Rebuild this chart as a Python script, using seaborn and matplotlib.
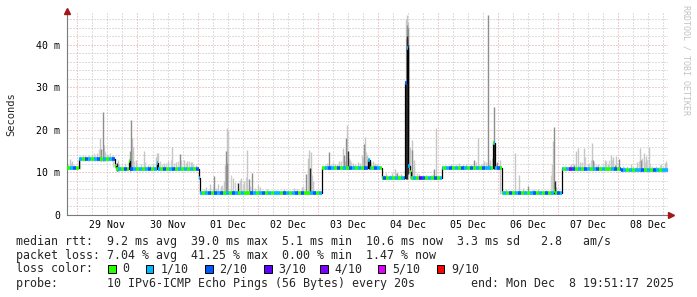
import numpy as np
import pandas as pd
import matplotlib
matplotlib.use("Agg")
import matplotlib.pyplot as plt
import seaborn as sns
from matplotlib.patches import Rectangle

# ---------------- data ----------------
x_start, x_end = -0.173, 9.827          # days relative to 29 Nov 00:00
y_top = 47.5                            # ms
day_labels = ["29 Nov", "30 Nov", "01 Dec", "02 Dec", "03 Dec",
              "04 Dec", "05 Dec", "06 Dec", "07 Dec", "08 Dec"]
y_ticks_ms = [0, 10, 20, 30, 40]
y_tick_labels = ["0", "10 m", "20 m", "30 m", "40 m"]

# median rtt (step, start day of each level, ms)
med_day = [-0.173, 0.033, 0.625, 0.65, 0.858, 0.883, 1.325, 1.342, 2.017, 2.038,
           4.067, 4.842, 4.867, 5.067, 5.458, 5.478, 5.508, 5.533, 5.558, 6.067,
           6.908, 6.95, 7.067, 7.925, 7.942, 8.067, 9.05]
med_ms = [11.0, 13.1, 11.6, 10.7, 12.6, 10.8, 12.3, 10.9, 8.8, 5.25,
          11.0, 12.9, 11.0, 8.8, 31.0, 39.2, 11.5, 10.0, 8.8, 11.1,
          16.9, 11.1, 5.25, 5.6, 5.25, 10.8, 10.6]

# packet loss class per time bin along the median line (0, 1..9 tenths)
loss_bins = ("0120102101" "2010120102" "0210101201" "1020120101" "0102101202"
             "1201021010" "0210120101" "1021012020" "0120101210" "2010210102"
             "1021020101" "0121010320" "1020101201" "0210201021" "1012010201"
             "2010120102" "0102101420" "1021012010" "0120210101" "1201021011")

# smoke (ping spread) spikes: day, top ms, shade (L light, M mid, D dark)
spike_day = [-0.128, -0.083, 0.133, 0.25, 0.333, 0.375, 0.4, 0.422, 0.438, 0.467,
             0.517, 0.583, 0.658, 0.683, 0.867, 0.888, 0.912, 0.933, 0.967,
             1.105, 1.167, 1.25, 1.3, 1.328, 1.345, 1.433, 1.5, 1.578, 1.633,
             1.7, 1.767, 1.817, 1.883, 1.967,
             2.133, 2.2, 2.272, 2.333, 2.383, 2.433, 2.458, 2.475, 2.497, 2.508,
             2.49, 2.588, 2.672, 2.717, 2.767, 2.817, 2.85, 2.912, 3.0, 3.033,
             3.15, 3.3, 3.433, 3.6, 3.65, 3.733, 3.8, 3.833, 3.858, 3.875, 3.892, 3.917,
             4.188, 4.283, 4.35, 4.412, 4.442, 4.467, 4.488, 4.5, 4.533, 4.583,
             4.667, 4.733, 4.767, 4.788, 4.817, 4.855, 4.917, 4.983,
             5.133, 5.233, 5.283, 5.317, 5.383, 5.475, 5.49, 5.505, 5.485, 5.497,
             5.465, 5.478, 5.492, 5.503, 5.542, 5.567, 5.575, 5.6, 5.683, 5.8,
             5.883, 5.938, 5.967,
             6.217, 6.35, 6.467, 6.605, 6.662, 6.717, 6.772, 6.838, 6.872, 6.928,
             6.983, 7.038, 6.93,
             7.133, 7.283, 7.355, 7.417, 7.505, 7.567, 7.672, 7.8, 7.912, 7.928,
             7.942, 7.967,
             8.162, 8.217, 8.262, 8.3, 8.328, 8.367, 8.422, 8.5, 8.567, 8.578,
             8.667, 8.772, 8.833, 8.883, 8.917, 8.938, 8.955, 9.005, 9.083, 9.217,
             9.317, 9.355, 9.383, 9.422, 9.467, 9.505, 9.633, 9.717, 9.777, 9.8]
spike_ms = [13.1, 12.6, 13.8, 14.2, 14.6, 18.0, 15.5, 24.3, 16.4, 14.8,
            14.0, 13.8, 12.3, 12.9, 15.0, 22.4, 18.0, 16.1, 13.0,
            15.1, 11.8, 12.1, 13.7, 14.5, 14.5, 12.3, 12.7, 16.1, 12.5,
            14.4, 12.9, 12.6, 12.5, 11.8,
            6.6, 7.3, 9.2, 7.2, 6.8, 8.0, 11.8, 15.0, 20.4, 19.8,
            12.2, 8.8, 7.5, 8.6, 8.0, 15.3, 8.5, 9.8, 7.0, 6.5,
            6.0, 5.8, 6.0, 6.4, 6.2, 6.5, 9.7, 13.5, 15.3, 11.1, 14.8, 8.0,
            14.9, 12.0, 12.6, 15.8, 14.0, 18.1, 21.2, 15.0, 13.0, 12.3,
            12.5, 14.0, 16.6, 18.4, 14.0, 12.9, 12.6, 12.0,
            9.8, 9.9, 10.8, 9.8, 9.6, 46.0, 47.0, 45.5, 44.7, 44.0,
            31.5, 42.0, 41.5, 40.0, 16.0, 17.6, 15.3, 13.0, 9.6, 9.4,
            9.3, 10.9, 20.4,
            12.0, 12.3, 11.9, 12.9, 18.0, 12.0, 12.6, 47.0, 12.9, 25.5,
            12.5, 13.0, 16.9,
            6.0, 14.5, 9.4, 6.3, 6.9, 5.9, 6.0, 5.8, 17.3, 20.8,
            8.0, 6.5,
            11.4, 12.0, 11.8, 15.0, 15.7, 12.5, 15.7, 12.0, 16.9, 12.9,
            12.0, 12.9, 12.0, 14.1, 13.6, 11.8, 13.8, 13.2, 11.5, 12.0,
            12.5, 15.7, 12.9, 14.5, 13.8, 16.1, 11.5, 12.0, 12.3, 12.6]
spike_shade = ("LLLLLLMMLLLLDLMMLLL" "LLLLLLLLLLMLLLL"
               "LLMLLLLMLLMLDLLLMMLLLLLLLLMLLDLL" "MLLLMMLDLLLLMLLDLL"
               "LLLMLLLLMMDDDDLLMLLLLML" "LLLMLLLMLMMLD" "LLLLMLLLLMDL"
               "LLMLLLLLLMLLLLLMLMLLLLMLLLLLLL")

# light smoke fuzz just above the median: day, top ms
fuzz_day = [-0.15, -0.1, -0.05, 0.05, 0.1, 0.17, 0.2, 0.28, 0.3, 0.36, 0.45, 0.5,
            0.55, 0.6, 0.7, 0.75, 0.8, 0.95, 1.0, 1.05, 1.13, 1.2, 1.37, 1.4, 1.47,
            1.55, 1.6, 1.67, 1.73, 1.8, 1.85, 1.9, 1.93,
            2.1, 2.25, 2.3, 2.41, 2.55, 2.62, 2.7, 2.75, 2.8, 2.87, 2.95, 3.75, 3.84, 3.9,
            4.12, 4.15, 4.22, 4.25, 4.32, 4.38, 4.42, 4.45, 4.52, 4.56, 4.62, 4.7,
            4.75, 4.8, 4.85, 4.88, 4.93, 4.95, 5.0,
            5.1, 5.2, 5.3, 5.35, 5.6, 5.65, 5.75, 5.92, 6.0,
            6.12, 6.25, 6.3, 6.42, 6.55, 6.63, 6.68, 6.75, 6.8, 6.85, 6.9, 6.96, 7.01,
            7.2, 7.45, 7.6, 7.88, 7.9,
            8.12, 8.2, 8.25, 8.35, 8.4, 8.45, 8.52, 8.55, 8.6, 8.63, 8.7, 8.75, 8.8,
            8.85, 8.9, 8.97, 9.02, 9.1, 9.15, 9.25, 9.3, 9.34, 9.4, 9.45, 9.48, 9.53,
            9.56, 9.6, 9.66, 9.7, 9.75, 9.79, 9.82]
fuzz_ms = [12.0, 12.3, 11.8, 13.9, 14.2, 13.8, 14.0, 14.5, 13.9, 15.5, 15.0, 14.3,
           14.6, 14.1, 12.0, 11.8, 12.2, 12.6, 12.0, 11.9, 12.4, 11.8, 12.8, 12.1, 12.3,
           12.9, 12.2, 12.6, 13.0, 12.2, 12.8, 12.4, 12.0,
           6.2, 6.8, 6.4, 7.0, 9.5, 7.8, 8.2, 7.4, 9.0, 6.9, 6.3, 6.8, 10.5, 9.4,
           11.8, 12.2, 12.0, 12.4, 11.9, 12.8, 13.2, 12.6, 13.5, 12.4, 12.0, 12.3,
           13.6, 14.8, 13.1, 12.4, 11.9, 12.2, 11.8,
           9.4, 9.5, 9.9, 9.3, 11.5, 9.8, 9.3, 9.6, 9.4,
           11.7, 11.8, 12.0, 11.9, 12.1, 12.4, 11.8, 12.2, 12.5, 12.0, 13.4, 12.0, 11.8,
           5.8, 5.9, 6.1, 9.5, 12.0,
           11.5, 11.8, 12.2, 11.6, 12.5, 13.6, 12.2, 13.0, 12.4, 11.8, 11.6, 12.0, 12.6,
           13.0, 12.9, 12.2, 11.8, 11.3, 11.5, 11.6, 11.4, 12.8, 13.4, 12.5, 13.0, 12.2,
           11.6, 11.4, 11.3, 11.8, 11.5, 11.9, 11.6]
assert len(spike_day) == len(spike_ms) == len(spike_shade)
assert len(fuzz_day) == len(fuzz_ms)
assert len(med_day) == len(med_ms)

loss_colors = {"0": "#26ff00", "1": "#00b8ff", "2": "#0059ff", "3": "#5e00ff",
               "4": "#7e00ff", "5": "#dd00ff", "9": "#ff0000"}
legend_keys = ["0", "1", "2", "3", "4", "5", "9"]
legend_names = ["0", "1/10", "2/10", "3/10", "4/10", "5/10", "9/10"]

stats_rtt = "median rtt:  9.2 ms avg  39.0 ms max  5.1 ms min  10.6 ms now  3.3 ms sd   2.8   am/s"
stats_loss = "packet loss: 7.04 % avg  41.25 % max  0.00 % min  1.47 % now"
probe_line = "probe:       10 IPv6-ICMP Echo Pings (56 Bytes) every 20s        end: Mon Dec  8 19:51:17 2025"

# ---------------- figure ----------------
sns.set_style("white")
plt.rcParams["font.family"] = ["DejaVu Sans Mono"]
W, H = 697, 297
fig = plt.figure(figsize=(W / 100, H / 100), dpi=100)
fig.patch.set_facecolor("white")
ax = fig.add_axes([67 / W, 1 - 215 / H, 601 / W, 202 / H])
ax.set_facecolor("white")
ax.set_xlim(x_start, x_end)
ax.set_ylim(0, y_top)

# grid
dot = (0, (1, 2))
for d in np.arange(np.ceil(x_start * 4) / 4, x_end, 0.25):
    major = abs(d - round(d)) < 1e-6
    ax.axvline(d, color="#e79a9a" if major else "#bcbcbc", lw=0.72, ls=dot, zorder=0)
for v in np.arange(2, y_top, 2):
    major = abs(v % 10) < 1e-6
    ax.axhline(v, color="#e79a9a" if major else "#bcbcbc", lw=0.72, ls=dot, zorder=0)

med_day_arr = np.array(med_day)
med_ms_arr = np.array(med_ms)
seg_end = np.append(med_day_arr[1:], x_end)


def median_at(d):
    i = np.searchsorted(med_day_arr, d, side="right") - 1
    return med_ms_arr[max(i, 0)]


def base_of(d):
    return min(median_at(d + o) for o in (-0.03, -0.015, 0, 0.015, 0.03)) - 0.3


# smoke
shade_col = {"L": "#c6c6c6", "M": "#8e8e8e", "D": "#2a2a2a"}
fuzz = pd.DataFrame({"day": fuzz_day, "top": fuzz_ms})
fuzz["base"] = [base_of(d) for d in fuzz["day"]]
ax.vlines(fuzz["day"], fuzz["base"], fuzz["top"], color="#d0d0d0", lw=1.0, zorder=1)
smoke = pd.DataFrame({"day": spike_day, "top": spike_ms, "shade": list(spike_shade)})
smoke["base"] = [base_of(d) for d in smoke["day"]]
for sh in ["L", "M", "D"]:
    sub = smoke[smoke["shade"] == sh]
    ax.vlines(sub["day"], sub["base"], sub["top"], color=shade_col[sh], lw=1.0, zorder=2)

# median black step line
med_df = pd.DataFrame({"day": list(med_day) + [x_end], "ms": list(med_ms) + [med_ms[-1]]})
sns.lineplot(data=med_df, x="day", y="ms", drawstyle="steps-post", color="black",
             lw=0.9, estimator=None, sort=False, ax=ax, zorder=3)

# loss-coloured median segments
nb = len(loss_bins)
bw = (x_end - x_start) / nb
for i, code in enumerate(loss_bins):
    b0, b1 = x_start + i * bw, x_start + (i + 1) * bw
    for s0, s1, v in zip(med_day_arr, seg_end, med_ms_arr):
        lo, hi = max(b0, s0), min(b1, s1)
        if hi > lo:
            ax.hlines(v, lo, hi, color=loss_colors[code], lw=2.6, zorder=4,
                      capstyle="butt")

# axes styling
for s in ["top", "right"]:
    ax.spines[s].set_visible(False)
for s in ["left", "bottom"]:
    ax.spines[s].set_color("#7a7a7a")
    ax.spines[s].set_linewidth(0.8)
ax.set_xticks(np.arange(0.5, 10, 1.0), day_labels)
ax.set_yticks(y_ticks_ms, y_tick_labels)
ax.tick_params(axis="both", length=0, labelsize=7.1, colors="black")
ax.tick_params(axis="y", pad=5)
ax.tick_params(axis="x", pad=3.5)
ax.set_xlabel("")
ax.set_ylabel("")
ax.grid(False)
ax.plot(0, 1 + 2.5 / 202, marker="^", ms=4, color="#a01818", transform=ax.transAxes,
        clip_on=False, zorder=6)
ax.plot(1 + 2.5 / 601, 0, marker=">", ms=4, color="#a01818", transform=ax.transAxes,
        clip_on=False, zorder=6)

fig.text(11 / W, 1 - 114 / H, "Seconds", rotation=90, ha="center", va="center", fontsize=7.5)
fig.text(686 / W, 1 - 5 / H, "RRDTOOL / TOBI OETIKER", rotation=-90, ha="center",
         va="top", fontsize=6, color="#c2c2c2")

fs = 8.38
tx = 16.5 / W
fig.text(tx, 1 - 241 / H, stats_rtt, ha="left", va="center", fontsize=fs)
fig.text(tx, 1 - 255 / H, stats_loss, ha="left", va="center", fontsize=fs)
fig.text(tx, 1 - 269 / H, "loss color:", ha="left", va="center", fontsize=fs)
fig.text(tx, 1 - 283.5 / H, probe_line, ha="left", va="center", fontsize=fs)
box_x = [108, 145.7, 205, 264, 320, 377.7, 436.5]
for bx, k, name in zip(box_x, legend_keys, legend_names):
    fig.add_artist(Rectangle((bx / W, 1 - 273 / H), 7.7 / W, 8.3 / H,
                             transform=fig.transFigure, facecolor=loss_colors[k],
                             edgecolor="black", lw=0.7))
    fig.text((bx + 14.5) / W, 1 - 269 / H, name, ha="left", va="center", fontsize=fs)

fig.savefig("out.png", dpi=100, facecolor="white")
